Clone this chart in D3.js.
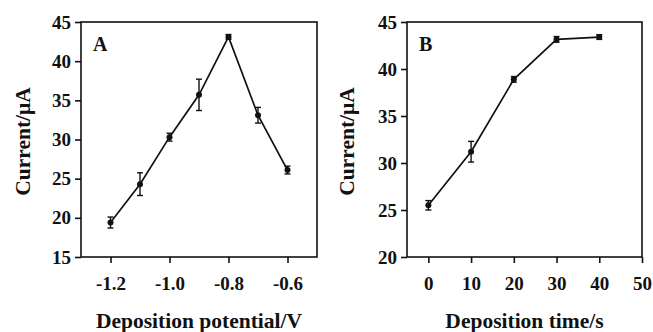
<!DOCTYPE html>
<html>
<head>
<meta charset="utf-8">
<script src="https://cdn.jsdelivr.net/npm/d3@7"></script>
<style>
  body { margin: 0; background: #fff; }
  svg text { font-family: "Liberation Serif", "Times New Roman", serif; font-weight: bold; fill: #111; }
</style>
</head>
<body>
<div id="chart"></div>
<script>
// panel A: deposition potential
const potentials = [-1.2, -1.1, -1.0, -0.9, -0.8, -0.7, -0.6];
const currentA = [19.4, 24.3, 30.3, 35.7, 43.1, 33.1, 26.1];
const errorA = [0.7, 1.45, 0.5, 2.0, 0.3, 1.0, 0.5];
const ticksXA = [-1.2, -1.0, -0.8, -0.6];
const ticksYA = [15, 20, 25, 30, 35, 40, 45];

// panel B: deposition time
const times = [0, 10, 20, 30, 40];
const currentB = [25.5, 31.2, 38.9, 43.15, 43.4];
const errorB = [0.5, 1.1, 0.3, 0.3, 0.25];
const ticksXB = [0, 10, 20, 30, 40, 50];
const ticksYB = [20, 25, 30, 35, 40, 45];

const svg = d3.select('#chart').append('svg')
  .attr('width', 653)
  .attr('height', 332);

// plain hyphen for negative numbers, like the original figure
const hyphen = f => d => f(d).replace('\u2212', '-');

function drawPanel(cfg) {
  const x = d3.scaleLinear().domain(cfg.xDomain).range([cfg.left, cfg.right]);
  const y = d3.scaleLinear().domain(cfg.yDomain).range([cfg.bottom, cfg.top]);
  const g = svg.append('g');

  // box
  g.append('rect')
    .attr('x', cfg.left).attr('y', cfg.top)
    .attr('width', cfg.right - cfg.left).attr('height', cfg.bottom - cfg.top)
    .attr('fill', 'none').attr('stroke', '#111').attr('stroke-width', 1.6);

  // axes
  const xAxis = g.append('g')
    .attr('transform', `translate(0,${cfg.bottom})`)
    .call(d3.axisBottom(x).tickValues(cfg.xTicks).tickSize(6).tickPadding(14)
      .tickFormat(hyphen(cfg.xFormat)));
  const yAxis = g.append('g')
    .attr('transform', `translate(${cfg.left},0)`)
    .call(d3.axisLeft(y).tickValues(cfg.yTicks).tickSize(6).tickPadding(4));
  [xAxis, yAxis].forEach(a => {
    a.select('.domain').remove();
    a.selectAll('line').attr('stroke', '#111').attr('stroke-width', 1.6);
    a.selectAll('text').style('font-size', '19px')
      .style('font-family', '"Liberation Serif", serif').style('font-weight', 'bold')
      .attr('fill', '#111');
  });

  // line
  const pts = cfg.xs.map((v, i) => ({ x: v, y: cfg.ys[i], e: cfg.errs[i] }));
  g.append('path')
    .datum(pts)
    .attr('fill', 'none')
    .attr('stroke', '#111')
    .attr('stroke-width', 1.7)
    .attr('d', d3.line().x(d => x(d.x)).y(d => y(d.y)));

  // error bars
  const eb = g.selectAll('.eb').data(pts).enter().append('g').attr('class', 'eb')
    .attr('stroke', '#111').attr('stroke-width', 1.4);
  eb.append('line')
    .attr('x1', d => x(d.x)).attr('x2', d => x(d.x))
    .attr('y1', d => y(d.y - d.e)).attr('y2', d => y(d.y + d.e));
  eb.append('line')
    .attr('x1', d => x(d.x) - 3).attr('x2', d => x(d.x) + 3)
    .attr('y1', d => y(d.y + d.e)).attr('y2', d => y(d.y + d.e));
  eb.append('line')
    .attr('x1', d => x(d.x) - 3).attr('x2', d => x(d.x) + 3)
    .attr('y1', d => y(d.y - d.e)).attr('y2', d => y(d.y - d.e));

  // points
  g.selectAll('.dot').data(pts).enter().append('circle')
    .attr('cx', d => x(d.x)).attr('cy', d => y(d.y))
    .attr('r', 3).attr('fill', '#111');

  // panel letter
  g.append('text')
    .attr('x', cfg.left + 12).attr('y', cfg.top + 29)
    .style('font-size', '20px')
    .text(cfg.letter);

  // axis titles
  g.append('text')
    .attr('x', (cfg.left + cfg.right) / 2).attr('y', 328)
    .attr('text-anchor', 'middle')
    .style('font-size', '21.5px')
    .text(cfg.xTitle);
  g.append('text')
    .attr('transform', `translate(${cfg.yTitleX},${(cfg.top + cfg.bottom) / 2 + 2}) rotate(-90)`)
    .attr('text-anchor', 'middle')
    .style('font-size', '21.5px')
    .text('Current/\u03bcA');
}

drawPanel({
  left: 81, right: 317, top: 22, bottom: 257,
  xDomain: [-1.3, -0.5], yDomain: [15, 45],
  xTicks: ticksXA, yTicks: ticksYA, xFormat: d3.format('.1f'),
  xs: potentials, ys: currentA, errs: errorA,
  letter: 'A', xTitle: 'Deposition potential/V', yTitleX: 30
});

drawPanel({
  left: 407, right: 642, top: 22, bottom: 257,
  xDomain: [-5, 50], yDomain: [20, 45],
  xTicks: ticksXB, yTicks: ticksYB, xFormat: d3.format('d'),
  xs: times, ys: currentB, errs: errorB,
  letter: 'B', xTitle: 'Deposition time/s', yTitleX: 354
});
</script>
</body>
</html>
